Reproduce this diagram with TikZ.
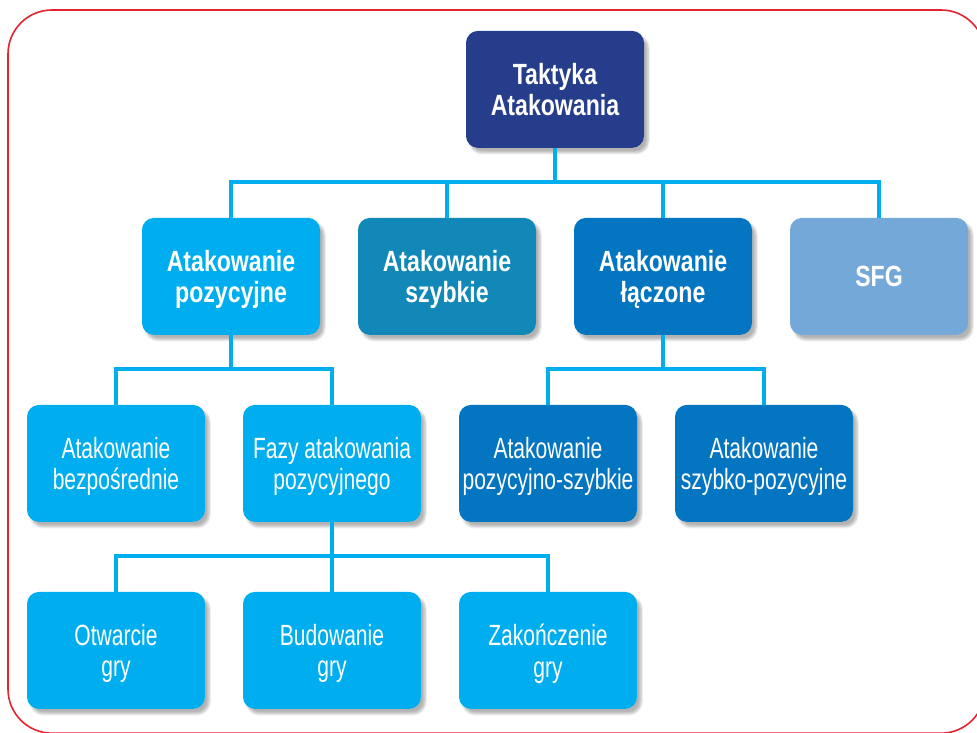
\documentclass[tikz,border=0pt]{standalone}
\usepackage{fontspec}
\newfontfamily\regfont{Liberation Sans}[FakeStretch=0.72]
\newfontfamily\headfont{Liberation Sans}[FakeStretch=0.79]
\usepackage{xcolor}
\usepackage{tikz}
\usetikzlibrary{shapes,positioning,calc,shadows.blur}

\definecolor{navy}{RGB}{38,61,140}
\definecolor{cyanbox}{RGB}{0,174,239}
\definecolor{tealbox}{RGB}{17,136,183}
\definecolor{bluebox}{RGB}{4,117,193}
\definecolor{skybox}{RGB}{116,168,217}
\definecolor{framered}{RGB}{229,35,48}

\begin{document}
\begin{tikzpicture}[node distance=1.75cm and 0.95cm,
    box/.style={rectangle, rounded corners=0.3cm, minimum width=4.45cm, minimum height=2.925cm, align=center, text=white, outer sep=0pt, inner xsep=1pt, text depth=-5pt,
        blur shadow={shadow xshift=0.1cm, shadow yshift=-0.12cm, shadow blur steps=6, shadow opacity=30}},
    headbox/.style={box, font=\headfont\bfseries\fontsize{20.8pt}{22.7pt}\selectfont},
    leafbox/.style={box, font=\regfont\fontsize{20.8pt}{22.7pt}\selectfont},
    link/.style={draw=cyanbox, line width=0.1cm}]

    \useasboundingbox (0,0) rectangle (24.425,18.3);
    \begin{scope}
        \clip (0,0) rectangle (24.425,18.3);
        \draw[framered, line width=0.04cm, rounded corners=1.1cm] (0.2,-0.03) rectangle (24.625,18.05);
    \end{scope}

    \node[headbox, fill=cyanbox] (poz) at (5.775,11.39) {Atakowanie\\pozycyjne};
    \node[headbox, fill=tealbox, right=of poz] (szy) {Atakowanie\\szybkie};
    \node[headbox, fill=bluebox, right=of szy] (lacz) {Atakowanie\\łączone};
    \node[headbox, fill=skybox, right=of lacz] (sfg) {SFG};

    \coordinate (mid) at ($(szy.north)!0.5!(lacz.north)$);
    \node[headbox, fill=navy, above=of mid] (tak) {Taktyka\\Atakowania};

    \node[leafbox, fill=cyanbox, below=of poz, xshift=-2.875cm] (bez) {Atakowanie\\bezpośrednie};
    \node[leafbox, fill=cyanbox, right=of bez] (faz) {Fazy atakowania\\pozycyjnego};
    \node[leafbox, fill=bluebox, right=of faz] (pozszy) {Atakowanie\\pozycyjno-szybkie};
    \node[leafbox, fill=bluebox, right=of pozszy] (szypoz) {Atakowanie\\szybko-pozycyjne};

    \node[leafbox, fill=cyanbox, below=of bez] (otw) {Otwarcie\\gry};
    \node[leafbox, fill=cyanbox, right=of otw] (bud) {Budowanie\\gry};
    \node[leafbox, fill=cyanbox, right=of bud] (zak) {Zakończenie\\gry};

    \draw[link] (tak.south) -- ++(0,-0.825);
    \draw[link] (poz.north) -- ++(0,0.9) -| (sfg.north);
    \draw[link] (szy.north) -- ++(0,0.9);
    \draw[link] (lacz.north) -- ++(0,0.9);

    \draw[link] (poz.south) -- ++(0,-0.85);
    \draw[link] (bez.north) -- ++(0,0.9) -| (faz.north);
    \draw[link] (lacz.south) -- ++(0,-0.85);
    \draw[link] (pozszy.north) -- ++(0,0.9) -| (szypoz.north);

    \draw[link] (faz.south) -- ++(0,-0.85);
    \draw[link] (otw.north) -- ++(0,0.9) -| (zak.north);
    \draw[link] (bud.north) -- ++(0,0.9);

\end{tikzpicture}
\end{document}
